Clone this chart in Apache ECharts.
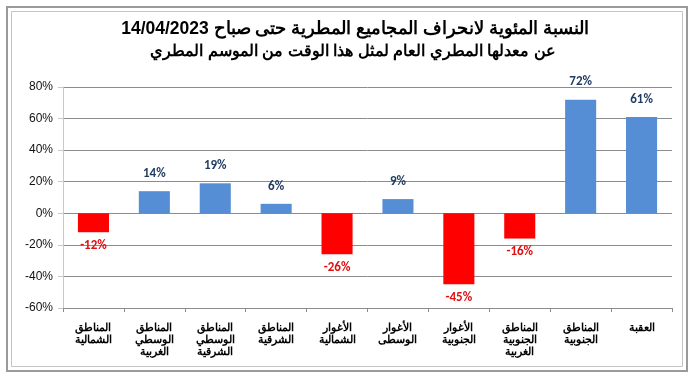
<!DOCTYPE html>
<html>
<head>
<meta charset="utf-8">
<script src="https://cdn.jsdelivr.net/npm/echarts@6/dist/echarts.min.js"></script>
<style>
  html, body { margin: 0; padding: 0; background: #fff; }
  #chart { width: 693px; height: 377px; }
</style>
</head>
<body>
<div id="chart"></div>
<script>
var regions = [
  'المناطق\nالشمالية',
  'المناطق\nالوسطي\nالغربية',
  'المناطق\nالوسطي\nالشرقية',
  'المناطق\nالشرقية',
  'الأغوار\nالشمالية',
  'الأغوار\nالوسطى',
  'الأغوار\nالجنوبية',
  'المناطق\nالجنوبية\nالغربية',
  'المناطق\nالجنوبية',
  'العقبة'
]
var deviation = [-12, 14, 19, 6, -26, 9, -45, -16, 72, 61]
var titleLines = [
  'النسبة المئوية لانحراف المجاميع المطرية حتى صباح 14/04/2023',
  'عن معدلها المطري العام لمثل هذا الوقت من الموسم المطري'
]

// right-to-left embedding so the date sits at the end of the sentence
function rtl (s) { return '\u202B' + s + '\u202C' }

var chart = echarts.init(document.getElementById('chart'))

var barData = deviation.map(function (v) {
  var neg = v < 0
  return {
    value: v,
    itemStyle: { color: neg ? '#ff0000' : '#558ed5' },
    label: { color: neg ? '#e01010' : '#1f3a5f', distance: neg ? 7 : 11 }
  }
})

chart.setOption({
  animation: false,
  graphic: [{
    type: 'rect',
    shape: { x: 7, y: 7, width: 680, height: 364 },
    style: { fill: 'none', stroke: '#9a9a9a', lineWidth: 2 }
  }, {
    type: 'rect',
    shape: { x: 11.5, y: 11.5, width: 671, height: 355 },
    style: { fill: 'none', stroke: '#c4c4c4', lineWidth: 1 }
  }],
  title: [{
    text: rtl(titleLines[0]),
    left: 350,
    textAlign: 'center',
    top: 15,
    textStyle: { fontFamily: 'Liberation Sans', fontSize: 17.5, fontWeight: 'bold', color: '#000' }
  }, {
    text: rtl(titleLines[1]),
    left: 348,
    textAlign: 'center',
    top: 39,
    textStyle: { fontFamily: 'Liberation Sans', fontSize: 16, fontWeight: 'bold', color: '#000' }
  }],
  grid: { left: 63, right: 21, top: 87, bottom: 69 },
  xAxis: [{
    type: 'category',
    data: regions,
    position: 'bottom',
    axisLine: { show: false },
    axisTick: { show: false },
    axisLabel: {
      interval: 0,
      margin: 14,
      fontFamily: 'Liberation Sans',
      fontSize: 11,
      fontWeight: 'bold',
      lineHeight: 12,
      color: '#000'
    }
  }, {
    type: 'category',
    data: regions,
    position: 'bottom',
    axisLine: { show: true, onZero: true, lineStyle: { color: '#8c8c8c', width: 1 } },
    axisTick: { show: true, length: 4, inside: false, lineStyle: { color: '#8c8c8c' } },
    axisLabel: { show: false }
  }],
  yAxis: {
    type: 'value',
    min: -60,
    max: 80,
    interval: 20,
    axisLine: { show: true, lineStyle: { color: '#c8c8c8' } },
    axisTick: { show: true, length: 5, lineStyle: { color: '#c8c8c8' } },
    splitLine: { lineStyle: { color: '#8c8c8c', width: 1 } },
    axisLabel: {
      margin: 10,
      formatter: '{value}%',
      fontFamily: 'Liberation Sans',
      fontSize: 12,
      color: '#111'
    }
  },
  series: [{
    type: 'bar',
    xAxisIndex: 0,
    barWidth: '51%',
    data: barData,
    label: {
      show: true,
      position: 'outside',
      formatter: '{c}%',
      fontFamily: 'Carlito, Liberation Sans',
      fontSize: 13,
      fontWeight: 'bold'
    }
  }]
})
</script>
</body>
</html>
